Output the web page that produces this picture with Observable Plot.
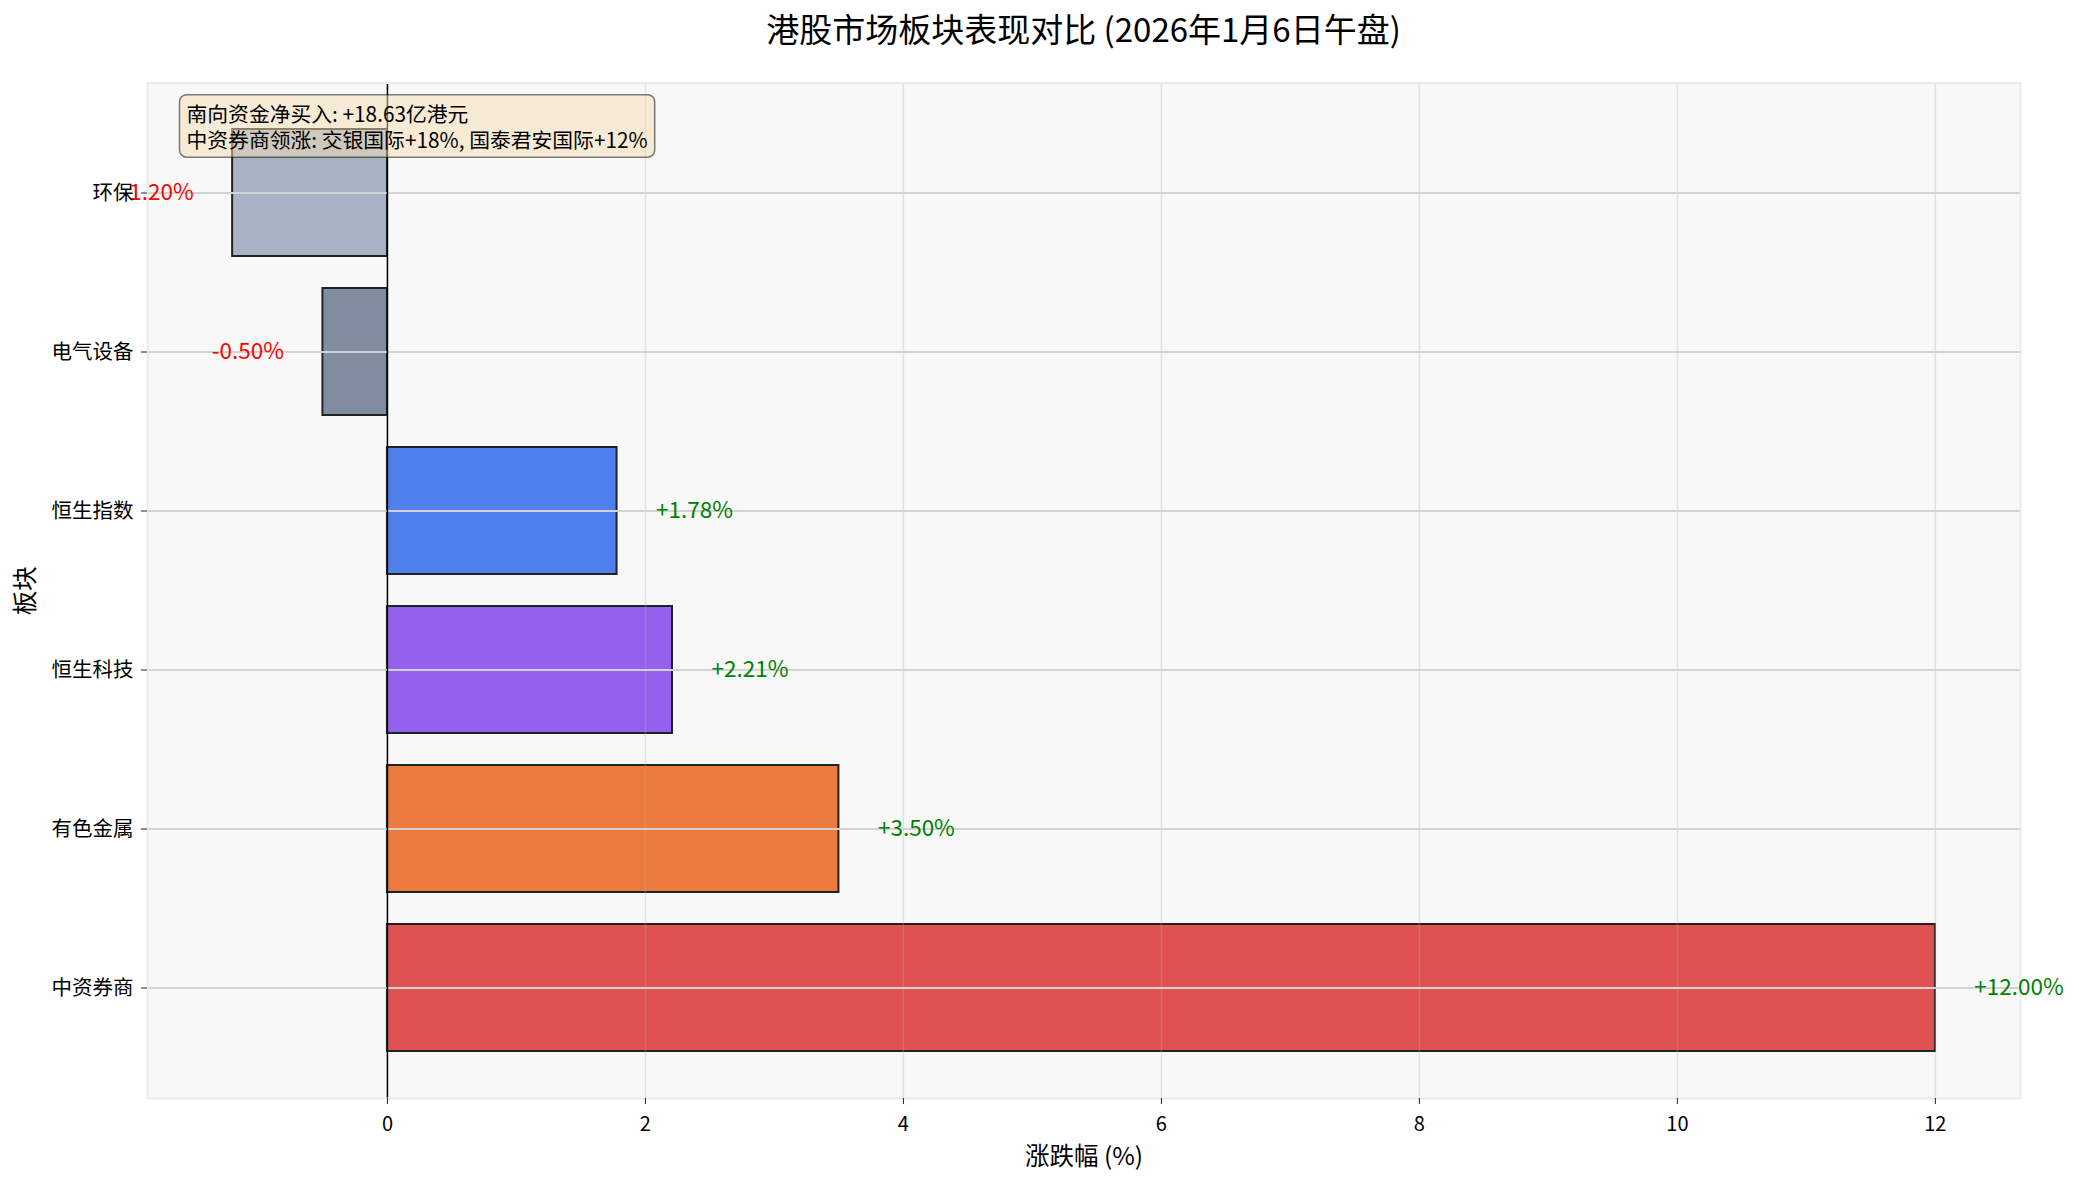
<!DOCTYPE html>
<html>
<head>
<meta charset="utf-8">
<script src="https://cdn.jsdelivr.net/npm/d3@7"></script>
<script src="https://cdn.jsdelivr.net/npm/@observablehq/plot@0.6"></script>
<style>
  html, body { margin: 0; padding: 0; background: #ffffff; }
  #wrap { position: relative; width: 2079px; height: 1185px; font-family: "Noto Sans CJK SC", "Noto Sans", sans-serif; }
  #title { position: absolute; left: 147px; width: 1873px; top: 6px; height: 44px; line-height: 44px;
           text-align: center; font-size: 33px; color: #000; }
  svg { display: block; }
</style>
</head>
<body>
<div id="wrap">
  <div id="title">港股市场板块表现对比 (2026年1月6日午盘)</div>
</div>
<script>
// ---- data ----
const categories = ["环保", "电气设备", "恒生指数", "恒生科技", "有色金属", "中资券商"];
const changes = [-1.20, -0.50, 1.78, 2.21, 3.50, 12.00];
const barColors = ["#a8b4c6", "#818ea1", "#5080ee", "#9461ee", "#ec7a3e", "#e05252"];
const xTicks = [0, 2, 4, 6, 8, 10, 12];
const xDomain = [-1.86, 12.66];
const annotationLines = ["南向资金净买入: +18.63亿港元", "中资券商领涨: 交银国际+18%, 国泰君安国际+12%"];
const xLabel = "涨跌幅 (%)";
const yLabel = "板块";

const rows = categories.map((c, i) => ({
  cat: c,
  value: changes[i],
  color: barColors[i],
  label: (changes[i] >= 0 ? "+" : "") + changes[i].toFixed(2) + "%"
}));
const pos = rows.filter(d => d.value >= 0);
const neg = rows.filter(d => d.value < 0);

const chart = Plot.plot({
  width: 2079,
  height: 1185,
  marginLeft: 147,
  marginRight: 59,
  marginTop: 82.5,
  marginBottom: 87,
  style: { fontFamily: "'Noto Sans CJK SC', 'Noto Sans', sans-serif", fontSize: "20px", background: "transparent", color: "#000" },
  x: { domain: xDomain, ticks: xTicks, label: null },
  y: { domain: categories, paddingInner: 0.2, paddingOuter: 0.29, label: null },
  color: { type: "identity" },
  marks: [
    Plot.frame({ fill: "#f8f8f8", stroke: "none" }),
    Plot.barX(rows, { x: "value", y: "cat", fill: "color", stroke: "#222", strokeWidth: 2 }),
    Plot.gridX({ ticks: xTicks, stroke: "#b0b0b0", strokeOpacity: 0.3, strokeWidth: 1.5 }),
    Plot.ruleY(categories, { y: d => d, stroke: "#d3d3d3", strokeWidth: 2 }),
    Plot.ruleX([0], { stroke: "#000", strokeWidth: 1.5 }),
    Plot.frame({ stroke: "#ebebeb", strokeWidth: 2 }),
    Plot.text(pos, { x: "value", y: "cat", text: "label", dx: 39, textAnchor: "start", fill: "#008000", fontSize: 22.5 }),
    Plot.text(neg, { x: "value", y: "cat", text: "label", dx: -39, textAnchor: "end", fill: "#ff0000", fontSize: 22.5 }),
    Plot.axisX({ ticks: xTicks, tickSize: 6, tickPadding: 12, fontSize: 20, label: null, stroke: "#222" }),
    Plot.axisY({ tickSize: 6, tickPadding: 8, fontSize: 20.5, label: null, stroke: "#222" }),
    Plot.text([xLabel], { frameAnchor: "bottom", dy: 59, lineAnchor: "middle", fontSize: 24.5, fill: "#000" }),
    Plot.text([yLabel], { frameAnchor: "left", dx: -121, rotate: -90, textAnchor: "middle", fontSize: 24.5, fill: "#000" }),
    Plot.text([annotationLines.join("\n")], { frameAnchor: "top-left", dx: 39, dy: 20, lineAnchor: "top", textAnchor: "start", fontSize: 20.8, lineHeight: 1.27, fill: "#000" })
  ]
});

document.getElementById("wrap").appendChild(chart);

// rounded, semi-transparent box behind the annotation text
const svg = d3.select(chart);
svg.selectAll("text").each(function () {
  if (this.textContent.startsWith("南向")) {
    const bb = this.getBBox();
    const g = this.parentNode;
    d3.select(g).insert("rect", ":first-child")
      .attr("transform", this.getAttribute("transform"))
      .attr("x", bb.x - 7)
      .attr("y", bb.y - 3)
      .attr("width", bb.width + 14)
      .attr("height", bb.height + 6)
      .attr("rx", 7)
      .attr("fill", "#f5deb3")
      .attr("fill-opacity", 0.5)
      .attr("stroke", "#000")
      .attr("stroke-opacity", 0.5)
      .attr("stroke-width", 1.5);
  }
});
</script>
</body>
</html>
